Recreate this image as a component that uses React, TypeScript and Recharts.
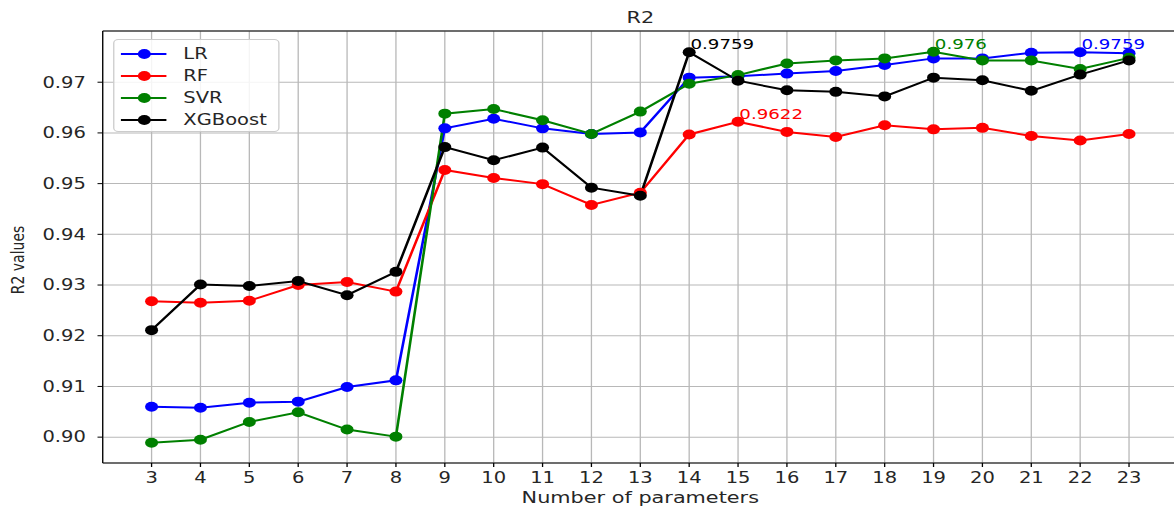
import React from 'react';
import { LineChart, Line, XAxis, YAxis, CartesianGrid, Legend, ReferenceLine } from 'recharts';

const params = [3, 4, 5, 6, 7, 8, 9, 10, 11, 12, 13, 14, 15, 16, 17, 18, 19, 20, 21, 22, 23];
const lrValues = [0.906, 0.9058, 0.9068, 0.907, 0.9099, 0.9112, 0.9609, 0.9628, 0.9609, 0.9598, 0.9601, 0.9709, 0.9712, 0.9717, 0.9722, 0.9734, 0.9747, 0.9747, 0.9758, 0.9759, 0.9757];
const rfValues = [0.9268, 0.9265, 0.9269, 0.93, 0.9306, 0.9287, 0.9527, 0.9511, 0.9499, 0.9458, 0.9482, 0.9597, 0.9622, 0.9602, 0.9592, 0.9615, 0.9607, 0.961, 0.9594, 0.9585, 0.9598];
const svrValues = [0.8989, 0.8995, 0.903, 0.9049, 0.9015, 0.9001, 0.9638, 0.9647, 0.9625, 0.9598, 0.9642, 0.9697, 0.9714, 0.9737, 0.9743, 0.9747, 0.976, 0.9743, 0.9743, 0.9726, 0.9748];
const xgbValues = [0.9211, 0.9301, 0.9298, 0.9308, 0.928, 0.9326, 0.9572, 0.9546, 0.9571, 0.9492, 0.9476, 0.9759, 0.9703, 0.9684, 0.9681, 0.9672, 0.9709, 0.9704, 0.9683, 0.9715, 0.9743];
const yTicks = [0.9, 0.91, 0.92, 0.93, 0.94, 0.95, 0.96, 0.97];

// which point of each series carries a value annotation
const annotations = [
  { key: 'XGBoost', index: 11, text: '0.9759' },
  { key: 'RF', index: 12, text: '0.9622' },
  { key: 'SVR', index: 16, text: '0.976' },
  { key: 'LR', index: 19, text: '0.9759' },
];

const series = [
  { key: 'LR', color: '#0000ff' },
  { key: 'RF', color: '#ff0000' },
  { key: 'SVR', color: '#008000' },
  { key: 'XGBoost', color: '#000000' },
];

const data = params.map((n, i) => ({
  n,
  LR: lrValues[i],
  RF: rfValues[i],
  SVR: svrValues[i],
  XGBoost: xgbValues[i],
}));

// the reference image is stretched horizontally, so draw narrow and scale
const SCALE = 1174 / 903;
const FONT = '"DejaVu Sans", sans-serif';

const makeLabel = (key: string, color: string) => (props: any) => {
  const a = annotations.find((x) => x.key === key && x.index === props.index);
  if (!a) return null;
  return (
    <text x={props.x + 1} y={props.y - 3} fill={color} fontSize={14} fontFamily={FONT}>
      {a.text}
    </text>
  );
};

const renderLegend = () => (
  <div
    style={{
      width: 128,
      height: 93,
      boxSizing: 'border-box',
      border: '1px solid #cccccc',
      borderRadius: 4,
      background: 'rgba(255,255,255,0.85)',
      fontFamily: FONT,
      fontSize: 15,
      color: '#262626',
      paddingTop: 3,
    }}
  >
    {series.map((s) => (
      <div key={s.key} style={{ display: 'flex', alignItems: 'center', height: 22 }}>
        <svg width={48} height={14} style={{ marginLeft: 4 }}>
          <line x1={1} y1={7} x2={36} y2={7} stroke={s.color} strokeWidth={2} />
          <circle cx={19} cy={7} r={5} fill={s.color} />
        </svg>
        <span style={{ marginLeft: 1 }}>{s.key}</span>
      </div>
    ))}
  </div>
);

const App = () => {
  return (
    <div style={{ position: 'absolute', left: 0, top: 0, width: 1174, height: 513, overflow: 'hidden', background: '#fff' }}>
      <div style={{ transform: `scaleX(${SCALE})`, transformOrigin: '0 0', width: 910, height: 513 }}>
        <LineChart width={910} height={513} data={data} margin={{ top: 31, right: 4, bottom: 0, left: 0 }}>
          <CartesianGrid stroke="#b8b8b8" strokeWidth={1} />
          <XAxis
            type="number"
            dataKey="n"
            domain={[2, 24]}
            ticks={params}
            interval={0}
            allowDataOverflow
            height={50}
            axisLine={{ stroke: '#000' }}
            tickLine={{ stroke: '#000' }}
            tickSize={4}
            tickMargin={5}
            tick={{ fill: '#262626', fontSize: 15, fontFamily: FONT }}
          />
          <YAxis
            type="number"
            domain={[0.8949, 0.9801]}
            ticks={yTicks}
            allowDataOverflow
            width={79}
            axisLine={{ stroke: '#000' }}
            tickLine={{ stroke: '#000' }}
            tickSize={4}
            tickMargin={9}
            tickFormatter={(v: number) => v.toFixed(2)}
            tick={{ fill: '#262626', fontSize: 15, fontFamily: FONT }}
          />
          <ReferenceLine y={0.9801} stroke="#000" strokeWidth={1} ifOverflow="extendDomain" />
          {series.map((s) => (
            <Line
              key={s.key}
              dataKey={s.key}
              type="linear"
              stroke={s.color}
              strokeWidth={2}
              dot={{ r: 5, fill: s.color, stroke: s.color, strokeWidth: 0 }}
              activeDot={false}
              label={makeLabel(s.key, s.color)}
              isAnimationActive={false}
            />
          ))}
          <Legend
            layout="horizontal"
            verticalAlign="middle"
            content={renderLegend}
            wrapperStyle={{ left: 87, top: 39, width: 128, height: 93 }}
          />
          <text x={492.5} y={23} textAnchor="middle" fontSize={16} fill="#262626" fontFamily={FONT}>
            R2
          </text>
          <text x={492.5} y={503} textAnchor="middle" fontSize={16} fill="#262626" fontFamily={FONT}>
            Number of parameters
          </text>
          <text
            x={14}
            y={260}
            transform="rotate(-90 14 260)"
            textAnchor="middle"
            dominantBaseline="central"
            fontSize={14}
            fill="#262626"
            fontFamily={FONT}
          >
            R2 values
          </text>
        </LineChart>
      </div>
    </div>
  );
};

export default App;
